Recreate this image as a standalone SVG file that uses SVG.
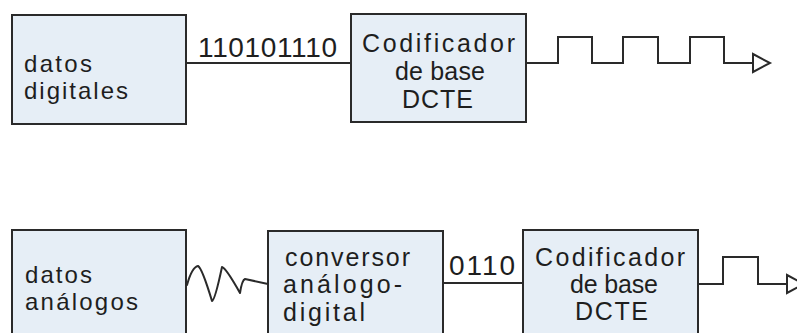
<svg xmlns="http://www.w3.org/2000/svg" width="797" height="333" viewBox="0 0 797 333">
  <style>
    .box { fill: #E6EEF6; stroke: #2a2a2a; stroke-width: 2; }
    .lbl { font-family: "Liberation Sans", Arial, sans-serif; font-size: 25px; fill: #1e1e1e; }
    .sm { font-size: 24px; }
    .mid { text-anchor: middle; }
    .wire { fill: none; stroke: #2a2a2a; stroke-width: 2; stroke-linejoin: miter; }
    .wave { fill: none; stroke: #2a2a2a; stroke-width: 2; stroke-linejoin: round; stroke-linecap: round; }
    .tip { fill: #ffffff; stroke: #2a2a2a; stroke-width: 2; stroke-linejoin: miter; }
  </style>
  <rect width="797" height="333" fill="#ffffff"/>

  <g id="connectors">
    <!-- top row -->
    <line class="wire" x1="186" y1="63" x2="351" y2="63"/>
    <text class="lbl" x="198" y="57" textLength="139" style="font-size:28px">110101110</text>
    <path class="wire" d="M526,63 H558 V37 H592 V63 H623 V37 H658 V63 H690 V37 H724 V63 H753"/>
    <polygon class="tip" points="753,54 770,63 753,72"/>
    <!-- bottom row -->
    <path class="wave" d="M187,285 Q192,267 198,266 Q202,268 212,301 Q215,300 222,267 Q226,268 240,293 Q242,280 245,279 Q254,281 268,284"/>
    <line class="wire" x1="443" y1="283" x2="523" y2="283"/>
    <text class="lbl" x="449" y="275" textLength="66" style="font-size:28px">0110</text>
    <path class="wire" d="M698,284 H723 V257 H758 V284 H787"/>
    <polygon class="tip" points="787,275 804,284 787,293"/>
  </g>

  <g id="datos-digitales">
    <rect class="box" x="12" y="15" width="174" height="109"/>
    <text class="lbl sm" x="24" y="72" textLength="68">datos</text>
    <text class="lbl sm" x="24" y="99" textLength="104">digitales</text>
  </g>

  <g id="codificador-1">
    <rect class="box" x="351" y="14" width="175" height="108"/>
    <text class="lbl mid" x="438.5" y="52" textLength="153">Codificador</text>
    <text class="lbl mid" x="440" y="80" textLength="90">de base</text>
    <text class="lbl mid" x="437.5" y="108" textLength="71">DCTE</text>
  </g>

  <g id="datos-analogos">
    <rect class="box" x="12" y="230" width="174" height="112"/>
    <text class="lbl sm" x="25" y="283" textLength="67">datos</text>
    <text class="lbl sm" x="25" y="310" textLength="113">análogos</text>
  </g>

  <g id="conversor">
    <rect class="box" x="268" y="231" width="175" height="111"/>
    <text class="lbl" x="285" y="266" textLength="125">conversor</text>
    <text class="lbl" x="283" y="293" textLength="119">análogo-</text>
    <text class="lbl" x="283" y="321" textLength="82">digital</text>
  </g>

  <g id="codificador-2">
    <rect class="box" x="523" y="230" width="175" height="112"/>
    <text class="lbl mid" x="610" y="266" textLength="150">Codificador</text>
    <text class="lbl mid" x="614" y="293" textLength="88">de base</text>
    <text class="lbl mid" x="611.5" y="320" textLength="73">DCTE</text>
  </g>
</svg>
